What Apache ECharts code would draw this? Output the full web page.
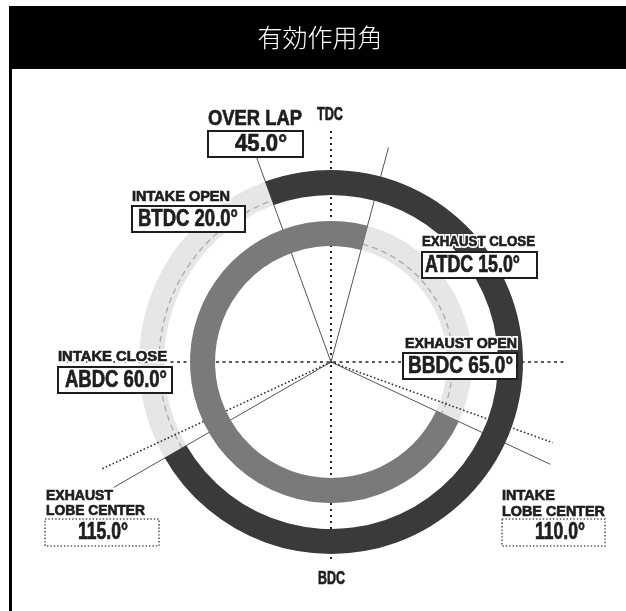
<!DOCTYPE html>
<html><head><meta charset="utf-8">
<script src="https://cdn.jsdelivr.net/npm/echarts@6/dist/echarts.min.js"></script>
<style>html,body{margin:0;padding:0;background:#fff}#c{width:626px;height:611px}</style>
</head><body><div id="c"></div>
<script>
// ---------- data ----------
const titleText = '有効作用角';
const eventNames = ['INTAKE OPEN', 'INTAKE CLOSE', 'EXHAUST OPEN', 'EXHAUST CLOSE'];
const eventRefs = ['BTDC', 'ABDC', 'BBDC', 'ATDC'];
const eventValues = [20.0, 60.0, 65.0, 15.0];
const lobeNames = ['INTAKE\nLOBE CENTER', 'EXHAUST\nLOBE CENTER'];
const lobeValues = [110.0, 115.0];
const overlapName = 'OVER LAP';
const overlapValue = 45.0;
const deadCenterLabels = ['TDC', 'BDC'];

// ---------- derived angles (clockwise from TDC) ----------
const norm = a => ((a % 360) + 360) % 360;
const ivo = -eventValues[0];
const ivc = 180 + eventValues[1];
const evo = 180 - eventValues[2];
const evc = eventValues[3];
const intakeDur = ivc - ivo;
const exhaustDur = 360 + evc - evo;
const intakeLobeAng = lobeValues[0];
const exhaustLobeAng = 360 - lobeValues[1];

// ---------- layout ----------
const CX = 331, CY = 362;
const outerR = [167, 192], innerR = [116, 141];
const F = '"Liberation Sans", Arial, sans-serif';
const DARK = '#3a3a3a', MID = '#7a7a7a', LIGHT = '#e6e6e6', INK = '#1e1e1e';

function ringPie(radius, startCompass, values, colors, z) {
  return {
    type: 'pie', silent: true, z: z, center: [CX, CY], radius: radius,
    startAngle: 90 - startCompass, clockwise: true,
    label: { show: false }, labelLine: { show: false },
    emphasis: { disabled: true }, animation: false,
    data: values.map((v, i) => ({ value: v, itemStyle: { color: colors[i], borderWidth: 0 } }))
  };
}
function polarLine(points, style) {
  return {
    type: 'line', coordinateSystem: 'polar', silent: true, z: 2, symbol: 'none',
    animation: false, data: points, lineStyle: style
  };
}
const solid = { color: '#555', width: 1, type: 'solid' };
const dots = { color: '#333', width: 1.6, type: [1.6, 2.2] };
const axisDots = { color: '#222', width: 2, type: [2, 4] };

const radialLines = [
  { ang: ivo, len: 218, st: solid },
  { ang: evc, len: 222, st: solid },
  { ang: evo, len: 242, st: solid },
  { ang: intakeLobeAng, len: 236, st: dots },
  { ang: ivc, len: 251, st: solid },
  { ang: exhaustLobeAng, len: 254, st: dots }
];

const dashedArcs = [[ivc, ivo + 360], [evc, evo]];
const dashedArcR = [172, 122];

const series = [
  ringPie(outerR, ivo, [intakeDur, 360 - intakeDur], [LIGHT, LIGHT], 1),
  ringPie(innerR, evo, [exhaustDur, 360 - exhaustDur], [LIGHT, LIGHT], 1),
  {
    type: 'custom', coordinateSystem: 'polar', silent: true, z: 2, animation: false,
    data: dashedArcs,
    renderItem: function (params, api) {
      const from = api.value(0), to = api.value(1);
      const c = api.coord([0, 0]);
      return {
        type: 'arc',
        shape: { cx: c[0], cy: c[1], r: dashedArcR[params.dataIndex],
          startAngle: (from - 90) * Math.PI / 180, endAngle: (to - 90) * Math.PI / 180, clockwise: true },
        style: { fill: null, stroke: '#aaa', lineWidth: 1.3, lineDash: [6, 4] }
      };
    }
  },
  polarLine([[231, 0], [201, 180]], axisDots),
  polarLine([[271, 270], [234, 90]], { color: '#222', width: 1.6, type: [3, 3.5] })
].concat(radialLines.map(l => polarLine([[0, norm(l.ang)], [l.len, norm(l.ang)]], l.st)))
 .concat([
  ringPie(outerR, ivo, [intakeDur, 360 - intakeDur], [DARK, 'rgba(0,0,0,0)'], 3),
  ringPie(innerR, evo, [exhaustDur, 360 - exhaustDur], [MID, 'rgba(0,0,0,0)'], 3)
 ]);

// ---------- annotations ----------
const g = [];
g.push({ type: 'rect', z: 100, shape: { x: 9, y: 6, width: 617, height: 63 }, style: { fill: '#000' } });
g.push({ type: 'rect', z: 100, shape: { x: 9, y: 69, width: 3, height: 542 }, style: { fill: '#000' } });
g.push({ type: 'text', z: 101, x: 320, y: 37, style: { text: titleText, fill: '#fff',
  font: '300 25px "Noto Sans CJK JP", sans-serif', align: 'center', verticalAlign: 'middle',
  textAlign: 'center', textVerticalAlign: 'middle' } });

const mctx = document.createElement('canvas').getContext('2d');
function label(text, x, y, size, targetW, align) {
  const font = 'bold ' + size + 'px ' + F;
  mctx.font = font;
  const sx = targetW / mctx.measureText(text).width;
  const base = { text: text, font: font, align: align || 'left', verticalAlign: 'middle',
    textAlign: align || 'left', textVerticalAlign: 'middle' };
  g.push({ type: 'text', z: 108, x: x, y: y, scaleX: sx,
    style: Object.assign({ fill: '#fff', stroke: '#fff', lineWidth: 4 }, base) });
  g.push({ type: 'text', z: 110, x: x, y: y, scaleX: sx,
    style: Object.assign({ fill: INK, stroke: INK, lineWidth: 0.7 }, base) });
}
function box(x, y, w, h, dotted) {
  g.push({ type: 'rect', z: 105, shape: { x: x, y: y, width: w, height: h },
    style: { fill: '#fff', stroke: dotted ? '#555' : INK, lineWidth: dotted ? 1.6 : 2,
      lineDash: dotted ? [1.4, 2] : null } });
}
const fmt = v => v.toFixed(1) + '°';

// over lap
label(overlapName, 208, 119, 22, 94);
box(208, 131, 95, 26, false);
label(fmt(overlapValue), 261, 145, 23, 52, 'center');

// events
const eventLayout = [
  { tx: 132, ty: 197, tw: 98, bx: 132, by: 206, w: 113, vw: 100, vx: 188 },
  { tx: 58, ty: 357, tw: 109, bx: 58, by: 367, w: 114, vw: 102, vx: 116 },
  { tx: 405, ty: 344, tw: 112, bx: 403, by: 353, w: 114, vw: 105, vx: 460.5 },
  { tx: 422, ty: 242, tw: 113, bx: 422, by: 252, w: 115, vw: 95, vx: 472.5 }
];
eventNames.forEach((n, i) => {
  const L = eventLayout[i];
  label(n, L.tx, L.ty, 15, L.tw);
  box(L.bx, L.by, L.w, 26, false);
  label(eventRefs[i] + ' ' + fmt(eventValues[i]), L.vx, L.by + 13.5, 23, L.vw, 'center');
});

// lobe centers
const lobeLayout = [
  { tx: 502, ty: [496, 511.5], tw: [53, 103], bx: 502, by: 519, w: 103, vx: 560 },
  { tx: 46, ty: [495.5, 510.5], tw: [67, 99], bx: 45, by: 519, w: 114, vx: 103 }
];
lobeNames.forEach((n, i) => {
  const L = lobeLayout[i];
  n.split('\n').forEach((line, j) => label(line, L.tx, L.ty[j], 15, L.tw[j]));
  box(L.bx, L.by, L.w, 27, true);
  label(fmt(lobeValues[i]), L.vx, L.by + 14, 23, 50, 'center');
});

// TDC / BDC
label(deadCenterLabels[0], 330, 115, 19, 26, 'center');
label(deadCenterLabels[1], 331.5, 579, 19, 27, 'center');

const chart = echarts.init(document.getElementById('c'), null, { renderer: 'canvas' });
chart.setOption({
  animation: false,
  backgroundColor: '#fff',
  polar: { center: [CX, CY], radius: 300 },
  angleAxis: { type: 'value', min: 0, max: 360, startAngle: 90, clockwise: true, show: false },
  radiusAxis: { type: 'value', min: 0, max: 300, show: false },
  series: series,
  graphic: { elements: g }
});
</script></body></html>
